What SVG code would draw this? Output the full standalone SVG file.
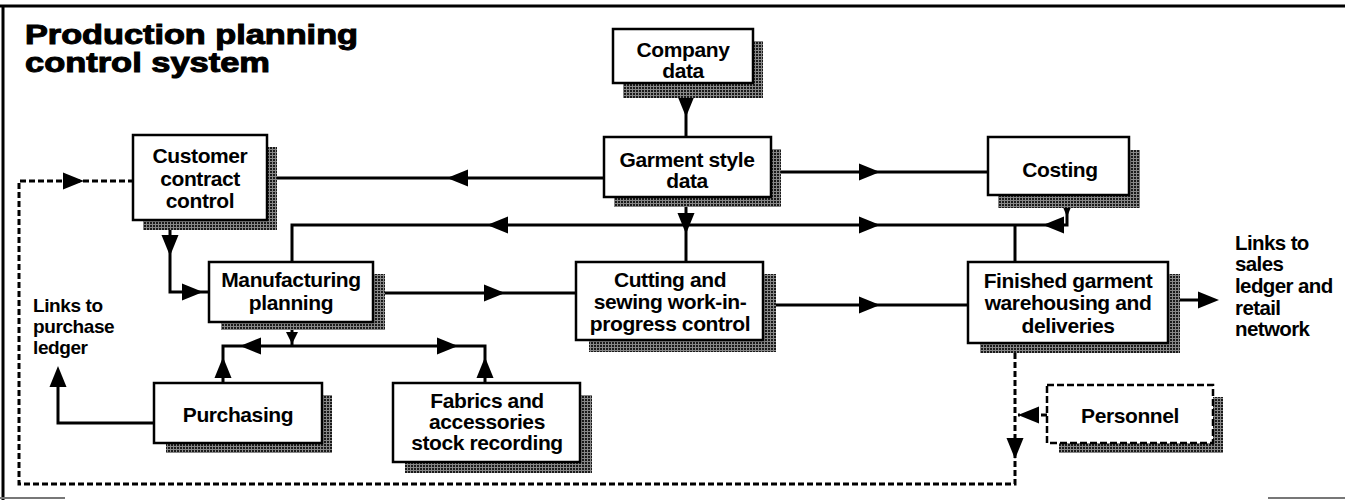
<svg xmlns="http://www.w3.org/2000/svg" xmlns:xlink="http://www.w3.org/1999/xlink" width="1345" height="500" viewBox="0 0 1345 500">
<style>
.frame{stroke:#000;stroke-width:3;fill:none}
.box{fill:#fff;stroke:#000;stroke-width:2.5}
.dbox{fill:#fff;stroke:#000;stroke-width:2.5;stroke-dasharray:7 3}
.sh{fill:url(#ht)}
.ln{fill:none;stroke:#000;stroke-width:3}
.dl{fill:none;stroke:#000;stroke-width:3;stroke-dasharray:6 3}
.t{font-family:"Liberation Sans",Arial,sans-serif;font-size:21px;font-weight:bold;fill:#000;text-anchor:middle;letter-spacing:-0.4px}
.lk{font-family:"Liberation Sans",Arial,sans-serif;font-size:20.5px;font-weight:bold;fill:#000;letter-spacing:-0.6px}
.lk2{font-family:"Liberation Sans",Arial,sans-serif;font-size:19px;font-weight:bold;fill:#000;letter-spacing:-0.4px}
.title{font-family:"Liberation Sans",Arial,sans-serif;font-size:27px;font-weight:900;fill:#000;stroke:#000;stroke-width:1}
</style>
<defs>
<pattern id="ht" width="3" height="3" patternUnits="userSpaceOnUse">
<rect width="3" height="3" fill="#888"/>
<rect width="2" height="2" fill="#1a1a1a"/>
</pattern>
<path id="ah" d="M0,0 L-21,-8.5 L-21,8.5 Z" fill="#000"/>
</defs>

<g id="frame">
<line class="frame" x1="0" y1="6" x2="1345" y2="6"/>
<line class="frame" x1="3" y1="5" x2="3" y2="500"/>
<line x1="0" y1="498" x2="65" y2="498" stroke="#777" stroke-width="2"/>
<line x1="1268" y1="498" x2="1345" y2="498" stroke="#777" stroke-width="2"/>
</g>

<g id="title">
<text class="title" x="25" y="44" textLength="333" lengthAdjust="spacingAndGlyphs">Production planning</text>
<text class="title" x="25" y="72" textLength="245" lengthAdjust="spacingAndGlyphs">control system</text>
</g>

<g id="connectors">
<line class="ln" x1="686" y1="98" x2="686" y2="137"/>
<use xlink:href="#ah" transform="translate(686,117) rotate(90)"/>
<line class="ln" x1="604" y1="178" x2="277" y2="178"/>
<use xlink:href="#ah" transform="translate(447,178) rotate(180)"/>
<line class="ln" x1="781" y1="172" x2="988" y2="172"/>
<use xlink:href="#ah" transform="translate(880,172)"/>
<path class="ln" d="M292,262 V225 H1067 V208"/>
<line class="ln" x1="686" y1="207" x2="686" y2="262"/>
<line class="ln" x1="1015" y1="225" x2="1015" y2="262"/>
<use xlink:href="#ah" transform="translate(1067,217) rotate(90)"/>
<use xlink:href="#ah" transform="translate(1043,225) rotate(180)"/>
<use xlink:href="#ah" transform="translate(880,225)"/>
<use xlink:href="#ah" transform="translate(487,225) rotate(180)"/>
<use xlink:href="#ah" transform="translate(686,234) rotate(90)"/>
<path class="ln" d="M170,230 V292 H209"/>
<use xlink:href="#ah" transform="translate(170,256) rotate(90)"/>
<use xlink:href="#ah" transform="translate(203,292)"/>
<line class="ln" x1="385" y1="293" x2="576" y2="293"/>
<use xlink:href="#ah" transform="translate(505,293)"/>
<line class="ln" x1="776" y1="305" x2="968" y2="305"/>
<use xlink:href="#ah" transform="translate(880,305)"/>
<line class="ln" x1="1180" y1="300" x2="1205" y2="300"/>
<use xlink:href="#ah" transform="translate(1219,300)"/>
<line class="ln" x1="292" y1="330" x2="292" y2="346"/>
<path d="M286,332 L298,332 L292,344 Z" fill="#000"/>
<path class="ln" d="M223,383 V346 H485 V383"/>
<use xlink:href="#ah" transform="translate(240,346) rotate(180)"/>
<use xlink:href="#ah" transform="translate(458,346)"/>
<use xlink:href="#ah" transform="translate(223,357) rotate(-90)"/>
<use xlink:href="#ah" transform="translate(485,357) rotate(-90)"/>
<path class="ln" d="M154,423 H58 V380"/>
<use xlink:href="#ah" transform="translate(58,366) rotate(-90)"/>
<path class="dl" d="M1015,353 V484 H19 V181 H133"/>
<use xlink:href="#ah" transform="translate(1015,459) rotate(90)"/>
<use xlink:href="#ah" transform="translate(84,181)"/>
<line class="dl" x1="1047" y1="415" x2="1018" y2="415"/>
<use xlink:href="#ah" transform="translate(1018,415) rotate(180)"/>
</g>

<g id="company-data">
<rect class="sh" x="623" y="41" width="140" height="57"/>
<rect class="box" x="613" y="29" width="140" height="54"/>
<text class="t" x="683" y="57">Company</text>
<text class="t" x="683" y="78">data</text>
</g>

<g id="garment-style-data">
<rect class="sh" x="614" y="149" width="167" height="58"/>
<rect class="box" x="604" y="137" width="167" height="60"/>
<text class="t" x="687" y="167">Garment style</text>
<text class="t" x="687" y="188">data</text>
</g>

<g id="customer-contract-control">
<rect class="sh" x="143" y="147" width="134" height="83"/>
<rect class="box" x="133" y="135" width="134" height="85"/>
<text class="t" x="200" y="163">Customer</text>
<text class="t" x="200" y="186">contract</text>
<text class="t" x="200" y="208">control</text>
</g>

<g id="costing">
<rect class="sh" x="998" y="150" width="142" height="58"/>
<rect class="box" x="988" y="137" width="141" height="58"/>
<text class="t" x="1060" y="177">Costing</text>
</g>

<g id="manufacturing-planning">
<rect class="sh" x="221" y="274" width="164" height="56"/>
<rect class="box" x="209" y="262" width="164" height="60"/>
<text class="t" x="291" y="287">Manufacturing</text>
<text class="t" x="291" y="310">planning</text>
</g>

<g id="cutting-sewing">
<rect class="sh" x="589" y="274" width="187" height="78"/>
<rect class="box" x="576" y="262" width="187" height="78"/>
<text class="t" x="670" y="287">Cutting and</text>
<text class="t" x="670" y="309">sewing work-in-</text>
<text class="t" x="670" y="331">progress control</text>
</g>

<g id="finished-garment">
<rect class="sh" x="980" y="274" width="200" height="79"/>
<rect class="box" x="968" y="262" width="200" height="81"/>
<text class="t" x="1068" y="288">Finished garment</text>
<text class="t" x="1068" y="310">warehousing and</text>
<text class="t" x="1068" y="333">deliveries</text>
</g>

<g id="purchasing">
<rect class="sh" x="166" y="395" width="166" height="58"/>
<rect class="box" x="154" y="383" width="168" height="60"/>
<text class="t" x="238" y="422">Purchasing</text>
</g>

<g id="fabrics-accessories">
<rect class="sh" x="405" y="395" width="187" height="78"/>
<rect class="box" x="393" y="383" width="187" height="79"/>
<text class="t" x="487" y="408">Fabrics and</text>
<text class="t" x="487" y="429">accessories</text>
<text class="t" x="487" y="450">stock recording</text>
</g>

<g id="personnel">
<rect class="sh" x="1059" y="397" width="164" height="56"/>
<rect class="dbox" x="1047" y="385" width="166" height="58"/>
<text class="t" x="1130" y="423">Personnel</text>
</g>

<g id="links-purchase">
<text class="lk2" x="33" y="312">Links to</text>
<text class="lk2" x="33" y="333">purchase</text>
<text class="lk2" x="33" y="354">ledger</text>
</g>

<g id="links-sales">
<text class="lk" x="1235" y="250">Links to</text>
<text class="lk" x="1235" y="271">sales</text>
<text class="lk" x="1235" y="293">ledger and</text>
<text class="lk" x="1235" y="315">retail</text>
<text class="lk" x="1235" y="336">network</text>
</g>
</svg>
